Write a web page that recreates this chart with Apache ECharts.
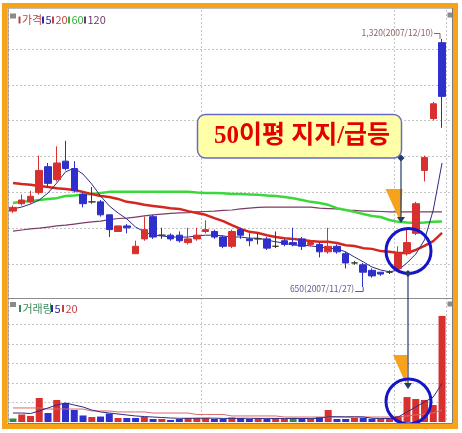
<!DOCTYPE html>
<html lang="ko">
<head>
<meta charset="utf-8">
<title>일봉 차트</title>
<script src="https://cdn.jsdelivr.net/npm/echarts@6.0.0/dist/echarts.min.js"></script>
<style>
  html, body { margin: 0; padding: 0; background: #fff; }
  #chart { width: 462px; height: 433px; }
</style>
</head>
<body>
<div id="chart"></div>
<script>
// 일봉 (2007/10/01 ~ 2007/12/10)
const dates = [
  '2007/10/01','2007/10/02','2007/10/04','2007/10/05','2007/10/08','2007/10/09','2007/10/10','2007/10/11','2007/10/12','2007/10/15',
  '2007/10/16','2007/10/17','2007/10/18','2007/10/19','2007/10/22','2007/10/23','2007/10/24','2007/10/25','2007/10/26','2007/10/29',
  '2007/10/30','2007/10/31','2007/11/01','2007/11/02','2007/11/05','2007/11/06','2007/11/07','2007/11/08','2007/11/09','2007/11/12',
  '2007/11/13','2007/11/14','2007/11/15','2007/11/16','2007/11/19','2007/11/20','2007/11/21','2007/11/22','2007/11/23','2007/11/26',
  '2007/11/27','2007/11/28','2007/11/29','2007/11/30','2007/12/03','2007/12/04','2007/12/05','2007/12/06','2007/12/07','2007/12/10'
];
const opens  = [855,875,880,905,975,940,990,970,900,880, 880,845,800,815,740,780,840,790,790,790, 770,780,800,800,785,760,805,780,780,780,
                760,775,770,780,765,765,745,760,740,715, 710,695,690,690,700,740,795,965,1105,1310];
const closes = [865,885,895,965,930,985,970,910,875,880, 845,805,815,810,760,805,785,790,780,775, 780,790,805,785,760,800,790,775,780,755,
                760,765,765,760,770,745,760,745,715,715, 690,680,685,690,740,770,875,1000,1145,1165];
const lows   = [850,870,875,900,920,935,965,905,865,875, 840,785,800,795,740,775,780,780,775,770, 765,775,795,780,755,755,780,760,765,750,
                755,760,760,750,760,730,740,740,700,710, 650,675,680,685,695,735,790,935,1100,1080];
const highs  = [870,900,910,1005,985,1030,1045,990,905,920, 885,845,815,820,775,840,845,810,795,800, 810,810,830,805,790,805,810,795,795,785,
                800,780,810,785,775,770,810,765,745,720, 715,700,690,695,760,805,880,1005,1150,1320];

const ma5   = [861,866,874,885,904,931,961,971,955,928, 896,869,850,834,812,799,790,788,785,785, 785,788,790,790,788,785,785,782,782,777,
               772,769,763,763,761,758,755,753,745,731, 718,704,696,691,696,715,739,777,858,985];
const ma20  = [931,928,926,923,920,917,915,912,907,901, 896,893,888,880,877,872,869,866,863,861, 855,850,845,836,828,817,807,799,796,790,
               785,782,780,777,774,772,772,769,763,761, 755,753,747,745,742,742,750,761,774,796];
const ma60  = [877,880,882,885,888,890,896,897,900,901, 904,907,907,907,907,907,907,907,907,907, 907,905,904,904,903,901,901,900,899,897,
               896,893,890,885,880,877,872,863,858,853, 847,842,839,831,826,824,823,824,826,827];
const ma120 = [801,804,807,809,812,815,817,820,823,826, 828,832,835,836,839,842,845,847,849,850, 851,853,854,855,857,858,861,863,865,866,
               866,866,866,866,866,863,862,861,858,857, 855,855,854,853,853,853,853,853,853,853];

// 거래량 (천주) / 전일 대비 방향: 1 상승, -1 하락, 0 보합
const volumes = [180,385,310,1230,460,1130,975,615,335,255, 280,435,205,205,205,255,155,155,105,155, 205,205,205,155,155,230,205,155,205,155,
                 205,155,205,155,155,255,615,155,155,205, 205,155,155,205,310,1280,1180,1130,870,5440];
const volDir  = [0,1,1,1,-1,1,-1,-1,-1,1, -1,-1,1,-1,-1,1,-1,1,-1,-1, 1,1,1,-1,-1,1,-1,-1,1,-1, 1,1,0,-1,1,-1,1,-1,-1,1,
                 -1,-1,1,1,1,1,1,1,1,1];
const volMa5  = [460,460,435,565,720,870,975,870,770,615, 515,460,410,360,310,280,255,230,205,190, 190,195,200,195,185,185,190,190,185,185,
                 185,180,185,180,180,190,270,270,265,265, 260,190,180,180,255,515,770,1025,1280,1980];
const volMa20 = [720,720,720,720,665,665,665,665,665,565, 565,565,515,515,515,515,460,460,460,460, 460,385,385,385,385,310,310,310,310,310,
                 310,255,255,255,255,255,255,255,255,255, 255,255,255,255,255,310,360,410,460,615];

const priceLegend = ['가격', '5', '20', '60', '120'];
const volLegend = ['거래량', '5', '20'];
const callout = '50이평 지지/급등';

const UP = '#d8302e', DOWN = '#2f2fcc', FLAT = '#2e8b45';
const NAVY = '#243a6c', ORANGE = '#f7a21b', RING = '#1414c8';
const SMALL = '"Liberation Sans Narrow", "Noto Sans CJK KR", sans-serif';

const chart = echarts.init(document.getElementById('chart'));

const monthStart = (i) => i === 0 || dates[i].slice(5, 7) !== dates[i - 1].slice(5, 7);
const gridDash = { color: '#c4c4c4', type: [2, 2], width: 1 };

function catAxis(gridIndex) {
  return {
    type: 'category', gridIndex, data: dates, boundaryGap: true,
    axisLine: { show: false }, axisTick: { show: false }, axisLabel: { show: false },
    splitLine: { show: true, interval: monthStart, lineStyle: gridDash }
  };
}
function guideAxis(gridIndex, max) {
  return {
    type: 'value', gridIndex, min: 0, max, interval: 1,
    axisLine: { show: false }, axisTick: { show: false }, axisLabel: { show: false },
    splitLine: { show: true, lineStyle: gridDash }
  };
}
function maLine(name, data, color, width, x, y, z) {
  return {
    name, type: 'line', data, xAxisIndex: x, yAxisIndex: y, symbol: 'none', z,
    lineStyle: { color, width }, silent: true
  };
}

function legendItems(labels, colors, xs, cy) {
  const els = [{ type: 'rect', shape: { x: 10, y: cy - 6, width: 6, height: 5 }, style: { fill: '#8a8a8a' } }];
  labels.forEach((t, i) => {
    els.push({ type: 'rect', shape: { x: xs[i], y: cy - 3, width: 2, height: 7 }, style: { fill: colors[i] } });
    els.push({ type: 'text', x: xs[i] + 3.5, y: cy + 0.5,
      style: { text: t, fill: colors[i], font: '11px ' + SMALL, verticalAlign: 'middle' } });
  });
  return els;
}

const diamond = (x, y, s) => ({ type: 'polygon', z: 110,
  shape: { points: [[x, y - s], [x + s, y], [x, y + s], [x - s, y]] }, style: { fill: NAVY } });
const arrowDown = (x, y) => ({ type: 'polygon', z: 110,
  shape: { points: [[x - 4, y - 6], [x + 4, y - 6], [x, y]] }, style: { fill: NAVY } });

const graphics = [].concat(
  legendItems(priceLegend, ['#b04a44', '#2a2aa8', '#c84040', '#36b536', '#6a3a6a'], [18.5, 42, 52, 68, 84], 19.5),
  legendItems(volLegend, ['#3a8a5a', '#2a2aa8', '#c84040'], [19, 51, 62], 308),
  [
    // panel separator and right-side widgets
    { type: 'line', shape: { x1: 8, y1: 298.5, x2: 452, y2: 298.5 }, style: { stroke: '#8c8c8c', lineWidth: 1 } },
    { type: 'rect', shape: { x: 447.5, y: 12.5, width: 5, height: 5 }, style: { fill: '#8c8c8c' } },
    { type: 'rect', shape: { x: 447.5, y: 301.5, width: 5, height: 5 }, style: { fill: '#8c8c8c' } },
    { type: 'rect', shape: { x: 452.5, y: 143, width: 2.5, height: 97 }, style: { fill: '#9c9c9c' } },

    // callout box
    { type: 'rect', z: 100, shape: { x: 197.5, y: 114.5, width: 204, height: 43.5, r: 8 },
      style: { fill: '#ffffa8', stroke: '#6a6ac4', lineWidth: 1.5 } },
    { type: 'text', z: 101, x: 302, y: 137,
      style: { text: callout, fill: '#e40000', font: 'bold 25px "Liberation Serif", "Noto Sans CJK KR", serif',
        align: 'center', verticalAlign: 'middle' } },

    // arrows into the circles
    { type: 'polygon', z: 105, shape: { points: [[385.5, 189], [402.5, 189], [400.5, 222]] }, style: { fill: ORANGE } },
    { type: 'polygon', z: 105, shape: { points: [[393, 355], [407.5, 355], [406.5, 385]] }, style: { fill: ORANGE } },
    { type: 'line', z: 108, shape: { x1: 401, y1: 158, x2: 401, y2: 218 }, style: { stroke: NAVY, lineWidth: 1.2 } },
    { type: 'line', z: 108, shape: { x1: 408, y1: 273, x2: 408, y2: 384 }, style: { stroke: NAVY, lineWidth: 1.2 } },
    diamond(401, 158, 3.5), arrowDown(401, 223),
    diamond(408, 273.5, 3.5), arrowDown(408, 389),
    { type: 'circle', z: 109, shape: { cx: 408.5, cy: 251, r: 22.5 }, style: { fill: 'transparent', stroke: RING, lineWidth: 3 } },
    { type: 'circle', z: 109, shape: { cx: 408.5, cy: 401.5, r: 22.5 }, style: { fill: 'transparent', stroke: RING, lineWidth: 3 } },

    // frame
    { type: 'rect', z: 120, shape: { x: 8, y: 8, width: 444.5, height: 415.5 }, style: { fill: 'transparent', stroke: '#7d7d7d', lineWidth: 1 } },
    { type: 'rect', z: 121, shape: { x: 4.5, y: 5.5, width: 451, height: 421 }, style: { fill: 'transparent', stroke: '#f6a31a', lineWidth: 5 } }
  ]
);

const option = {
  animation: false,
  backgroundColor: '#ffffff',
  grid: [
    { left: 8.6, width: 437.8, top: 10, height: 288 },   // 가격
    { left: 8.6, width: 437.8, top: 298, height: 124 },  // 거래량
    { left: 8, width: 444, top: 49, height: 215 },        // 가격 보조선
    { left: 8, width: 444, top: 324.5, height: 78 }       // 거래량 보조선
  ],
  xAxis: [
    catAxis(0), catAxis(1),
    { type: 'value', gridIndex: 2, min: 0, max: 1, show: false },
    { type: 'value', gridIndex: 3, min: 0, max: 1, show: false }
  ],
  yAxis: [
    { type: 'value', gridIndex: 0, min: 620.3, max: 1398.3, show: false, splitLine: { show: false } },
    { type: 'value', gridIndex: 1, min: 0, max: 6359, show: false, splitLine: { show: false } },
    guideAxis(2, 6),
    guideAxis(3, 4)
  ],
  series: [
    maLine('120', ma120, '#7a3c66', 1.2, 0, 0, 2),
    maLine('60', ma60, '#3ad83a', 2.5, 0, 0, 2),
    maLine('20', ma20, '#d4281e', 2.5, 0, 0, 2),
    maLine('5', ma5, '#2c2c86', 1, 0, 0, 2),
    {
      name: '가격', type: 'candlestick', xAxisIndex: 0, yAxisIndex: 0, z: 3, barWidth: 7,
      data: dates.map((d, i) => [opens[i], closes[i], lows[i], highs[i]]),
      itemStyle: { color: UP, color0: DOWN, borderColor: UP, borderColor0: DOWN, borderColorDoji: '#3a3a2a', borderWidth: 1 }
    },
    {
      name: '거래량', type: 'bar', xAxisIndex: 1, yAxisIndex: 1, barWidth: 7, z: 2,
      data: volumes.map((v, i) => ({ value: v, itemStyle: { color: volDir[i] > 0 ? UP : volDir[i] < 0 ? DOWN : FLAT } }))
    },
    maLine('vol20', volMa20, '#d86a6a', 1, 1, 1, 3),
    maLine('vol5', volMa5, '#2c2c86', 1, 1, 1, 3)
  ],
  graphic: graphics
};

chart.setOption(option);

// 최고가 / 최저가 표시
const fmt = (n) => n.toLocaleString('en-US');
const hiIdx = highs.indexOf(Math.max(...highs));
const loIdx = lows.indexOf(Math.min(...lows));
const [hx, hy] = chart.convertToPixel({ gridIndex: 0 }, [dates[hiIdx], highs[hiIdx]]);
const [lx, ly] = chart.convertToPixel({ gridIndex: 0 }, [dates[loIdx], lows[loIdx]]);

chart.setOption({
  graphic: graphics.concat([
    { type: 'text', z: 102, x: hx - 9, y: hy - 6,
      style: { text: `${fmt(highs[hiIdx])}(${dates[hiIdx]})`, fill: '#8c6262', font: '8.5px ' + SMALL, align: 'right', verticalAlign: 'middle' } },
    { type: 'polyline', z: 102, shape: { points: [[hx - 8, hy - 5.5], [hx - 2, hy - 5.5], [hx - 2, hy]] },
      style: { stroke: '#8c6262', lineWidth: 1, fill: null } },
    { type: 'text', z: 102, x: lx - 9, y: ly + 2,
      style: { text: `${fmt(lows[loIdx])}(${dates[loIdx]})`, fill: '#5c5c8c', font: '8.5px ' + SMALL, align: 'right', verticalAlign: 'middle' } },
    { type: 'polyline', z: 102, shape: { points: [[lx - 8, ly + 4.5], [lx, ly + 4.5], [lx, ly]] },
      style: { stroke: '#5c5c8c', lineWidth: 1, fill: null } }
  ])
}, { replaceMerge: ['graphic'] });
</script>
</body>
</html>
